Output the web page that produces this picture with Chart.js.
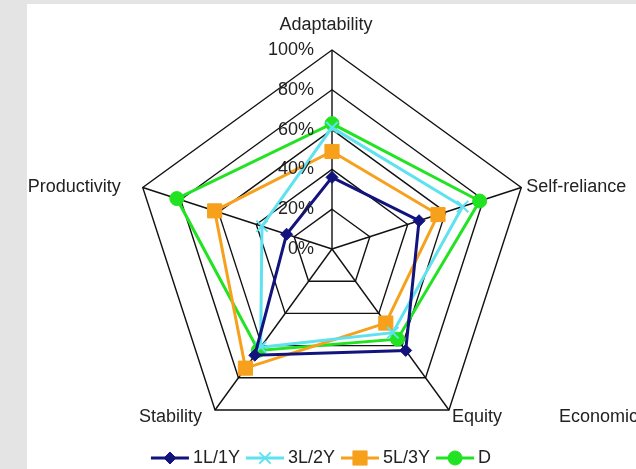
<!DOCTYPE html>
<html>
<head>
<meta charset="utf-8">
<script src="https://cdn.jsdelivr.net/npm/chart.js@4.4.1/dist/chart.umd.min.js"></script>
<style>
  html, body { margin: 0; padding: 0; background: #e4e4e4; overflow: hidden; }
  #panel { position: absolute; left: 27px; top: 4px; width: 609px; height: 465px; background: #fff; }
  #chart { position: absolute; left: 0; top: 0; }
</style>
</head>
<body>
<div id="panel"></div>
<canvas id="chart" width="636" height="469"></canvas>
<script>
'use strict';

// DATA
const categories = ['Adaptability', 'Self-reliance', 'Equity', 'Stability', 'Productivity'];
const tickValues = [0, 20, 40, 60, 80, 100];
const tickLabels = ['0%', '20%', '40%', '60%', '80%', '100%'];
const seriesNames = ['1L/1Y', '3L/2Y', '5L/3Y', 'D'];
const values1L1Y = [36, 46, 63, 66, 24];
const values3L2Y = [61, 69, 52, 61, 37];
const values5L3Y = [49, 56, 46, 74, 62];
const valuesD = [63, 78, 56, 63, 82];
const strayLabel = 'Economic';

// STYLE
const FONT = "18px 'Liberation Sans', Arial, sans-serif";
const TEXT_COLOR = '#222';

// per-label placement around the outer vertex
const labelOffsets = [
  { align: 'center', dx: -6, dy: -25 },
  { align: 'left', dx: 5, dy: 0 },
  { align: 'left', dx: 3, dy: 7 },
  { align: 'right', dx: -13, dy: 7 },
  { align: 'right', dx: -22, dy: 0 },
];

const makeSeries = function (label, data, color, style, radius) {
  return {
    label: label,
    data: data,
    borderColor: color,
    backgroundColor: color,
    pointBackgroundColor: color,
    pointBorderColor: color,
    borderWidth: 3,
    pointStyle: style,
    pointRadius: radius,
    pointBorderWidth: style === 'crossRot' ? 2 : 1,
    fill: false,
    tension: 0,
  };
};

// texts: ticks, axis labels, legend
const textPlugin = {
  id: 'texts',
  afterDraw(chart) {
    const ctx = chart.ctx;
    const scale = chart.scales.r;
    ctx.save();
    ctx.font = FONT;
    ctx.fillStyle = TEXT_COLOR;
    ctx.textBaseline = 'middle';

    ctx.textAlign = 'right';
    tickValues.forEach(function (v, i) {
      const p = scale.getPointPositionForValue(0, v);
      ctx.fillText(tickLabels[i], scale.xCenter - 18, p.y);
    });

    categories.forEach(function (label, i) {
      const p = scale.getPointPositionForValue(i, 100);
      const o = labelOffsets[i];
      ctx.textAlign = o.align;
      ctx.fillText(label, p.x + o.dx, p.y + o.dy);
    });

    ctx.textAlign = 'left';
    ctx.fillText(strayLabel, 559, 417);

    // legend: line with marker, then name
    const lineLen = 38;
    const legendY = 458;
    const datasets = chart.data.datasets;
    let total = 0;
    datasets.forEach(function (ds) {
      total += lineLen + 4 + ctx.measureText(ds.label).width + 6;
    });
    let x = 321 - (total - 6) / 2;
    datasets.forEach(function (ds) {
      ctx.strokeStyle = ds.borderColor;
      ctx.fillStyle = ds.borderColor;
      ctx.lineWidth = 3;
      ctx.beginPath();
      ctx.moveTo(x, legendY);
      ctx.lineTo(x + lineLen, legendY);
      ctx.stroke();
      ctx.lineWidth = ds.pointBorderWidth;
      Chart.helpers.drawPoint(ctx, {
        pointStyle: ds.pointStyle,
        radius: ds.pointRadius,
        rotation: 0,
        borderWidth: ds.pointBorderWidth,
      }, x + lineLen / 2, legendY);
      x += lineLen + 4;
      ctx.fillStyle = TEXT_COLOR;
      ctx.fillText(ds.label, x, legendY);
      x += ctx.measureText(ds.label).width + 6;
    });
    ctx.restore();
  },
};

const ctx = document.getElementById('chart').getContext('2d');

const chart = new Chart(ctx, {
  type: 'radar',
  data: {
    labels: categories,
    datasets: [
      makeSeries(seriesNames[0], values1L1Y, '#13137e', 'rectRot', 6),
      makeSeries(seriesNames[1], values3L2Y, '#5ee2ef', 'crossRot', 8),
      makeSeries(seriesNames[2], values5L3Y, '#f7a01c', 'rect', 10),
      makeSeries(seriesNames[3], valuesD, '#22e322', 'circle', 7),
    ],
  },
  options: {
    responsive: false,
    animation: false,
    layout: { padding: { left: 133, right: 105, top: 50, bottom: 21 } },
    plugins: {
      legend: { display: false },
      tooltip: { enabled: false },
    },
    scales: {
      r: {
        min: 0,
        max: 100,
        ticks: { display: false, stepSize: 20 },
        pointLabels: { display: false },
        grid: { color: '#111', lineWidth: 1.4 },
        angleLines: { color: '#111', lineWidth: 1.4 },
      },
    },
  },
  plugins: [textPlugin],
});
</script>
</body>
</html>
